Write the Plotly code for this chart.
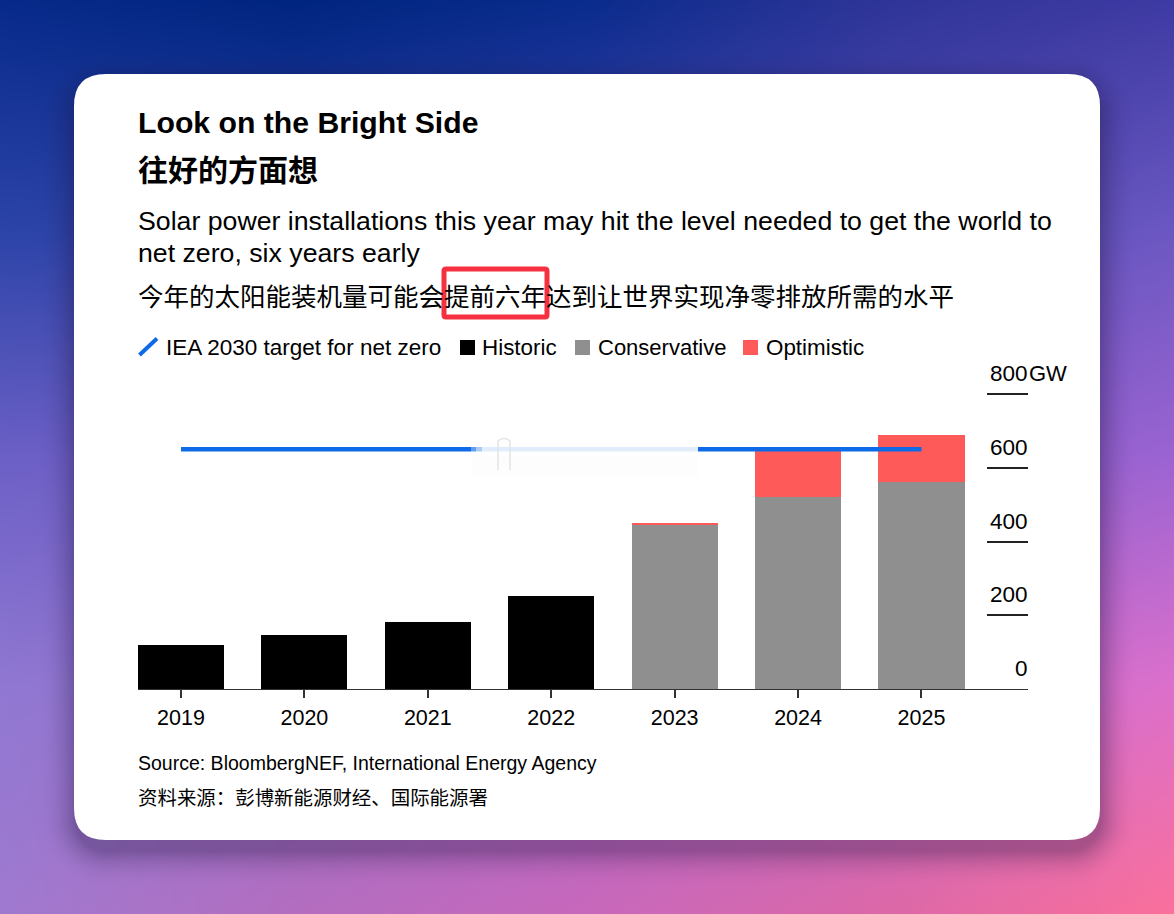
import base64, struct, zlib
import numpy as np
import plotly.graph_objects as go

# ---- data ----
years = [2019, 2020, 2021, 2022, 2023, 2024, 2025]
historic = [119, 146, 182, 252, None, None, None]
conservative = [None, None, None, None, 445, 520, 561]
optimistic = [None, None, None, None, 5, 130, 127]
iea_target = [650, 650, 650, 650, 650, 650, 650]
y_ticks = [200, 400, 600, 800]
y_labels = [0, 200, 400, 600, 800]

# ---- page geometry helpers (pixels of the 1174x914 page) ----
W, H = 1174, 914
L, R, T, B = 138, 1028, 392, 689
def px(x): return (x - L) / (R - L)
def py(y): return (B - y) / (B - T)

# ---- gradient background with card shadow ----
grid = np.array([
    [[0x08,0x2a,0x8a],[0x00,0x25,0x80],[0x0a,0x2c,0x8c],[0x2f,0x35,0x98],[0x3f,0x3b,0xa4]],
    [[0x2c,0x44,0xa8],[0x2c,0x40,0xa8],[0x40,0x44,0xb0],[0x55,0x4c,0xb8],[0x6c,0x58,0xc2]],
    [[0x6c,0x60,0xc6],[0x70,0x5c,0xc4],[0x78,0x5c,0xc6],[0x88,0x5e,0xcc],[0x9c,0x64,0xd2]],
    [[0x90,0x78,0xd2],[0x98,0x70,0xcc],[0xb0,0x6c,0xcc],[0xc8,0x6e,0xd0],[0xdc,0x70,0xcc]],
    [[0xa0,0x7a,0xd0],[0xb4,0x6e,0xc0],[0xc8,0x68,0xbc],[0xdc,0x68,0xa8],[0xfb,0x70,0x9c]],
], dtype=float)
iw, ih = W // 2, H // 2
yy, xx = np.mgrid[0:ih, 0:iw]
gx = xx / (iw - 1) * 4
gy = yy / (ih - 1) * 4
x0 = np.clip(gx.astype(int), 0, 3); y0 = np.clip(gy.astype(int), 0, 3)
fx = (gx - x0)[..., None]; fy = (gy - y0)[..., None]
img = (grid[y0, x0] * (1 - fx) * (1 - fy) + grid[y0, x0 + 1] * fx * (1 - fy)
       + grid[y0 + 1, x0] * (1 - fx) * fy + grid[y0 + 1, x0 + 1] * fx * fy)
# soft shadow: signed distance to the rounded card, shifted down
cx, cy, hw, hh, rad = 587, 457, 513, 383, 32
qx = np.abs(xx * 2 - cx) - hw + rad
qy = np.abs(yy * 2 - (cy + 10)) - hh + rad
d = np.hypot(np.maximum(qx, 0), np.maximum(qy, 0)) - rad
shadow = (0.32 * np.clip(1 - d / 36, 0, 1) ** 2)[..., None]
img = img * (1 - shadow) + np.array([30, 20, 60]) * shadow
arr = img.clip(0, 255).astype(np.uint8)
raw = b"".join(b"\x00" + arr[i].tobytes() for i in range(ih))
def chunk(t, d):
    return struct.pack(">I", len(d)) + t + d + struct.pack(">I", zlib.crc32(t + d) & 0xffffffff)
png = (b"\x89PNG\r\n\x1a\n" + chunk(b"IHDR", struct.pack(">IIBBBBB", iw, ih, 8, 2, 0, 0, 0))
       + chunk(b"IDAT", zlib.compress(raw, 9)) + chunk(b"IEND", b""))
bg = "data:image/png;base64," + base64.b64encode(png).decode()

# ---- figure ----
BLACK, GRAY, RED, BLUE = "#000000", "#8f8f8f", "#ff5a5a", "#0f6ae8"
FONT = "Liberation Sans, Noto Sans CJK SC, sans-serif"
fig = go.Figure()
fig.add_bar(x=years, y=historic, name="Historic", marker_color=BLACK, marker_line_width=0, width=0.697)
fig.add_bar(x=years, y=conservative, name="Conservative", marker_color=GRAY, marker_line_width=0, width=0.697)
fig.add_bar(x=years, y=optimistic, name="Optimistic", marker_color=RED, marker_line_width=0, width=0.697)
fig.add_scatter(x=years, y=iea_target, mode="lines", name="IEA 2030 target for net zero",
                line=dict(color=BLUE, width=4.5))

def text(x, y, s, size, bold=False, anchor="left", color="#000000"):
    fig.add_annotation(xref="paper", yref="paper", x=px(x), y=py(y), text=f"<b>{s}</b>" if bold else s,
                       showarrow=False, xanchor=anchor, yanchor="middle", align="left",
                       xshift=0, borderpad=0, borderwidth=0,
                       font=dict(family=FONT, size=size, color=color))

text(138, 122, "Look on the Bright Side", 30.2, True)
text(138, 170, "往好的方面想", 30, True)
text(138, 221, "Solar power installations this year may hit the level needed to get the world to", 26.7)
text(138, 253, "net zero, six years early", 26.7)
text(138, 297, "今年的太阳能装机量可能会提前六年达到让世界实现净零排放所需的水平", 25.5)
text(166, 347, "IEA 2030 target for net zero", 22.5)
text(482, 347, "Historic", 22.4)
text(598, 347, "Conservative", 22)
text(766, 347, "Optimistic", 22.4)
text(138, 763, "Source: BloombergNEF, International Energy Agency", 19.5)
text(138, 798, "资料来源：彭博新能源财经、国际能源署", 19.45)
text(1029, 373, "GW", 22)

for v in y_labels:
    fig.add_annotation(xref="paper", yref="y", x=1.0, y=v, text=str(v), showarrow=False,
                       xanchor="right", yanchor="bottom", yshift=7, xshift=1, borderpad=0,
                       font=dict(family=FONT, size=22.5, color="#000000"))

def rect(x0, y0, x1, y1, color, layer="above", opacity=1.0):
    fig.add_shape(type="rect", xref="paper", yref="paper", x0=px(x0), x1=px(x1), y0=py(y0), y1=py(y1),
                  fillcolor=color, line_width=0, layer=layer, opacity=opacity)

def rrect_path(x0, y0, x1, y1, r):
    a, b, c, d = px(x0), px(x1), py(y0), py(y1)
    rx, ry = r / (R - L), r / (B - T)
    return (f"M{a+rx},{c} L{b-rx},{c} Q{b},{c} {b},{c-ry} L{b},{d+ry} Q{b},{d} {b-rx},{d} "
            f"L{a+rx},{d} Q{a},{d} {a},{d+ry} L{a},{c-ry} Q{a},{c} {a+rx},{c} Z")

# card
fig.add_shape(type="path", xref="paper", yref="paper", path=rrect_path(74, 74, 1100, 840, 32),
              fillcolor="#ffffff", line_width=0, layer="below")
# highlight box
fig.add_shape(type="path", xref="paper", yref="paper", path=rrect_path(444, 269, 547, 317, 2),
              fillcolor="rgba(0,0,0,0)", line=dict(color="#f5303f", width=5), layer="above")
# legend swatches
fig.add_shape(type="line", xref="paper", yref="paper", x0=px(139.5), y0=py(355), x1=px(157), y1=py(338.5),
              line=dict(color=BLUE, width=4), layer="above")
rect(460, 340, 475, 355, BLACK)
rect(575, 340, 590, 355, GRAY)
rect(743, 340, 758, 355, RED)
# blurred-out patch over the target line
rect(471, 444, 476, 454, "#ffffff", opacity=0.35)
rect(476, 444, 482, 454, "#ffffff", opacity=0.65)
rect(482, 444, 698, 454, "#ffffff", opacity=0.88)
rect(472, 456, 698, 476, "#fdfdfd")
fig.add_shape(type="path", xref="paper", yref="paper", layer="above",
              path=(f"M{px(498)},{py(470)} L{px(498)},{py(441)} Q{px(504)},{py(436)} {px(510)},{py(441)} "
                    f"L{px(510)},{py(470)}"),
              fillcolor="rgba(0,0,0,0)", line=dict(color="#e4e4e4", width=1.5))

fig.update_layout(
    width=W, height=H, autosize=False, showlegend=False, barmode="stack",
    margin=dict(l=L, r=W - R, t=T, b=H - B, pad=0),
    paper_bgcolor="#ffffff", plot_bgcolor="rgba(0,0,0,0)",
    images=[dict(source=bg, xref="paper", yref="paper", x=px(0), y=py(0), sizex=W / (R - L), sizey=H / (B - T),
                 xanchor="left", yanchor="top", sizing="stretch", layer="below")],
    xaxis=dict(range=[2019 - 43 / 123.4, 2025 + 106.5 / 123.4], tickmode="array", tickvals=years,
               ticktext=[str(y) for y in years], ticks="outside", ticklen=8, tickwidth=1.5, tickcolor="#333333",
               showline=True, linecolor="#333333", linewidth=1.2, showgrid=False, zeroline=False,
               ticklabelstandoff=1, tickfont=dict(family=FONT, size=21.5, color="#000000"), fixedrange=True),
    yaxis=dict(range=[0, 800 * (B - T) / 295], side="right", tickmode="array", tickvals=y_ticks, ticks="inside",
               ticklen=41, tickwidth=1.5, tickcolor="#222222", showticklabels=False, showgrid=False, zeroline=False,
               showline=False, fixedrange=True),
)
fig.write_html("out.html", config={"displayModeBar": False},
               post_script="document.body.style.margin='0';document.documentElement.style.overflow='hidden';")
